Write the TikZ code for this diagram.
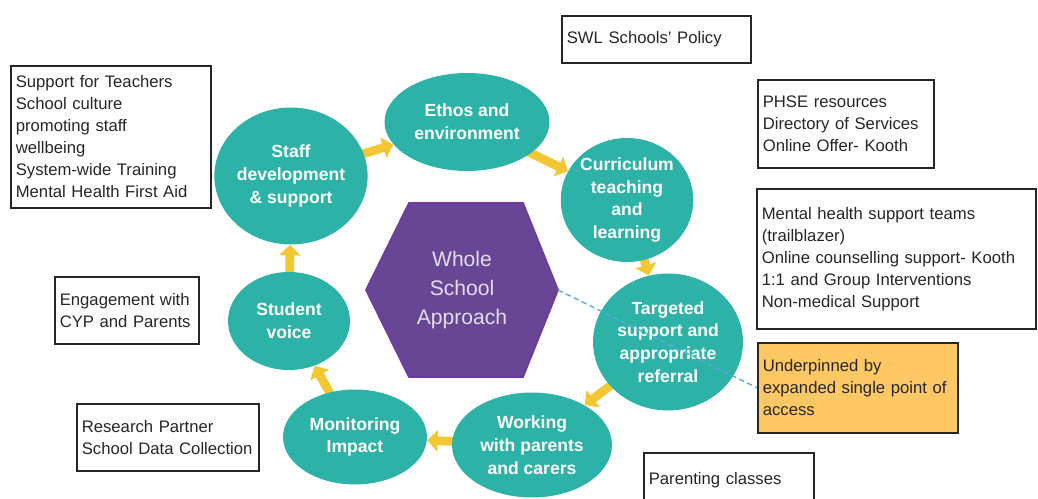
\documentclass[tikz,border=0pt]{standalone}
\usepackage{fontspec}
\setmainfont{Liberation Sans}
\usetikzlibrary{shapes.geometric,arrows.meta,backgrounds}
\definecolor{circteal}{RGB}{44,178,166}
\definecolor{hexpurple}{RGB}{104,70,150}
\definecolor{hexedge}{RGB}{110,58,160}
\definecolor{cycyellow}{RGB}{243,198,52}
\definecolor{accessfill}{RGB}{255,200,100}
\definecolor{dashblue}{RGB}{95,170,225}
\definecolor{hubtext}{RGB}{228,220,242}
\tikzset{
    area/.style={ellipse, fill=circteal, inner sep=0pt, text=white, align=center,
        font=\bfseries\fontsize{10}{13}\selectfont},
    infobox/.style={draw=black!85, line width=0.9pt, fill=white, anchor=north west,
        align=left, inner xsep=0.1cm, inner ysep=2pt, text=black!85,
        font=\fontsize{9.5}{12.5}\selectfont},
    cyc/.style={cycyellow, line width=5pt, -{Triangle[width=12pt,length=6pt]}, shorten <=-4pt}
}

\begin{document}
\begin{tikzpicture}[x=0.02cm,y=-0.02cm]
            \useasboundingbox (0,0) rectangle (1038,499);

            % centre hexagon
            \draw[fill=hexpurple, draw=hexedge, line width=1pt] (366,290)--(409,203)--(523,203)--(558,290)--(523,377)--(409,377)--cycle;
            \coordinate (hubR) at (558,290);
            \node[text=hubtext, align=center, font=\fontsize{12}{16.5}\selectfont] (hub) at (462,290) {Whole\\School\\Approach};

            % the cycle
            \node[area, minimum width=3.3cm, minimum height=1.96cm] (ethos) at (467,122) {Ethos and\\environment};
            \node[area, minimum width=2.5cm, minimum height=2.48cm] (curric) at (627,200) {Curriculum\\teaching\\and\\learning};
            \node[area, minimum width=3.0cm, minimum height=2.74cm] (target) at (668,342) {Targeted\\support and\\appropriate\\referral};
            \node[area, minimum width=3.2cm, minimum height=2.1cm] (working) at (532,445) {Working\\with parents\\and carers};
            \node[area, minimum width=2.88cm, minimum height=1.9cm] (monitor) at (355,437) {Monitoring\\Impact};
            \node[area, minimum width=2.44cm, minimum height=1.96cm] (student) at (289,321) {Student\\voice};
            \node[area, minimum width=2.94cm, minimum height=2.74cm] (staff) at (291,176) {Staff\\development\\\& support};

            \begin{scope}[on background layer]
                \draw[cyc] (staff) -- (ethos);
                \draw[cyc] (ethos) -- (curric);
                \draw[cyc] (curric) -- (target);
                \draw[cyc] (target) -- (working);
                \draw[cyc] (working) -- (monitor);
                \draw[cyc] (monitor) -- (student);
                \draw[cyc] (student) -- (staff);
            \end{scope}

            % boxes round the outside
            \node[infobox, text width=3.58cm, minimum height=0.94cm] (policy) at (561,15) {SWL Schools' Policy};
            \node[infobox, text width=3.32cm, minimum height=1.76cm] (phse) at (757,79) {PHSE resources\\Directory of Services\\Online Offer- Kooth};
            \node[infobox, text width=5.38cm, minimum height=2.8cm] (mhst) at (756,188) {Mental health support teams\\(trailblazer)\\Online counselling support- Kooth\\1:1 and Group Interventions\\Non-medical Support};
            \node[infobox, fill=accessfill, text width=3.8cm, minimum height=1.8cm] (access) at (757,342) {Underpinned by\\expanded single point of\\access};
            \node[infobox, text width=3.2cm, minimum height=1.08cm] (parent) at (643,452) {Parenting classes};
            \node[infobox, text width=3.8cm, minimum height=2.84cm] (teachers) at (10,65) {Support for Teachers\\School culture\\promoting staff\\wellbeing\\System-wide Training\\Mental Health First Aid};
            \node[infobox, text width=2.68cm, minimum height=1.34cm] (cyp) at (54,276) {Engagement with\\CYP and Parents};
            \node[infobox, text width=3.44cm, minimum height=1.34cm] (research) at (76,403) {Research Partner\\School Data Collection};

            \draw[dashblue, line width=0.8pt, dash pattern=on 3pt off 2pt] (hubR) -- (access.west);
        \end{tikzpicture}
\end{document}
